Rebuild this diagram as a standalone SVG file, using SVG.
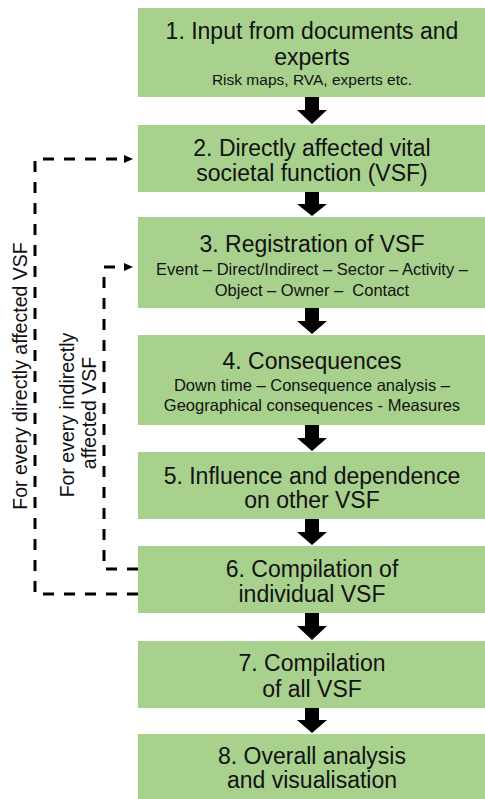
<svg xmlns="http://www.w3.org/2000/svg" width="485" height="799" viewBox="0 0 485 799">
<style>
.box{fill:#a9d18e}
.t{font-family:"Liberation Sans",Arial,sans-serif;fill:#111;text-anchor:middle}
.h{font-size:23px}
.s{font-size:16.5px}
.s1{font-size:15.5px}
.v{font-size:19.5px}
.blk{fill:#000}
.dash{fill:none;stroke:#000;stroke-width:3;stroke-dasharray:11 10}
</style>
<defs>
<marker id="ah" markerUnits="userSpaceOnUse" markerWidth="10" markerHeight="10" viewBox="0 0 10 10" refX="0" refY="5" orient="auto">
<path d="M0,1 L9,5 L0,9 Z" fill="#000"/>
</marker>
</defs>
<rect width="485" height="799" fill="#fff"/>
<g id="n1"><rect class="box" x="138" y="8" width="347" height="89"/>
<text class="t h" x="312" y="39">1. Input from documents and</text>
<text class="t h" x="312" y="65">experts</text>
<text class="t s1" x="312" y="85">Risk maps, RVA, experts etc.</text></g>
<g id="n2"><rect class="box" x="138" y="125" width="347" height="67"/>
<text class="t h" x="312" y="156">2. Directly affected vital</text>
<text class="t h" x="312" y="181">societal function (VSF)</text></g>
<g id="n3"><rect class="box" x="138" y="217" width="347" height="91"/>
<text class="t h" x="312" y="252">3. Registration of VSF</text>
<text class="t s" x="312" y="275">Event – Direct/Indirect – Sector – Activity –</text>
<text class="t s" x="312" y="296" xml:space="preserve">Object – Owner –  Contact</text></g>
<g id="n4"><rect class="box" x="138" y="335" width="347" height="90"/>
<text class="t h" x="312" y="369">4. Consequences</text>
<text class="t s" x="312" y="391">Down time – Consequence analysis –</text>
<text class="t s" x="312" y="411">Geographical consequences - Measures</text></g>
<g id="n5"><rect class="box" x="138" y="452" width="347" height="67"/>
<text class="t h" x="312" y="484">5. Influence and dependence</text>
<text class="t h" x="312" y="508">on other VSF</text></g>
<g id="n6"><rect class="box" x="138" y="546" width="347" height="67"/>
<text class="t h" x="312" y="577">6. Compilation of</text>
<text class="t h" x="312" y="602">individual VSF</text></g>
<g id="n7"><rect class="box" x="138" y="641" width="347" height="67"/>
<text class="t h" x="312" y="671">7. Compilation</text>
<text class="t h" x="312" y="697">of all VSF</text></g>
<g id="n8"><rect class="box" x="138" y="734" width="347" height="65"/>
<text class="t h" x="312" y="764">8. Overall analysis</text>
<text class="t h" x="312" y="788">and visualisation</text></g>
<g id="connectors">
<path class="blk" d="M305,97 V110 H297 L312,124 L327,110 H319 V97 Z"/>
<path class="blk" d="M305,192 V204 H297 L312,216 L327,204 H319 V192 Z"/>
<path class="blk" d="M305,308 V321 H297 L312,334 L327,321 H319 V308 Z"/>
<path class="blk" d="M305,425 V438 H297 L312,451 L327,438 H319 V425 Z"/>
<path class="blk" d="M305,519 V532 H297 L312,545 L327,532 H319 V519 Z"/>
<path class="blk" d="M305,613 V626 H297 L312,640 L327,626 H319 V613 Z"/>
<path class="blk" d="M305,708 V720 H297 L312,733 L327,720 H319 V708 Z"/>
<path class="dash" d="M138,594 H35 V159 H124" marker-end="url(#ah)"/>
<path class="dash" d="M138,569 H104 V267 H124" marker-end="url(#ah)"/>
</g>
<g id="labels">
<text class="t v" transform="translate(27,376) rotate(-90)">For every directly affected VSF</text>
<text class="t v" transform="translate(74,415) rotate(-90)">For every indirectly</text>
<text class="t v" transform="translate(96,413) rotate(-90)">affected VSF</text>
</g>
</svg>
